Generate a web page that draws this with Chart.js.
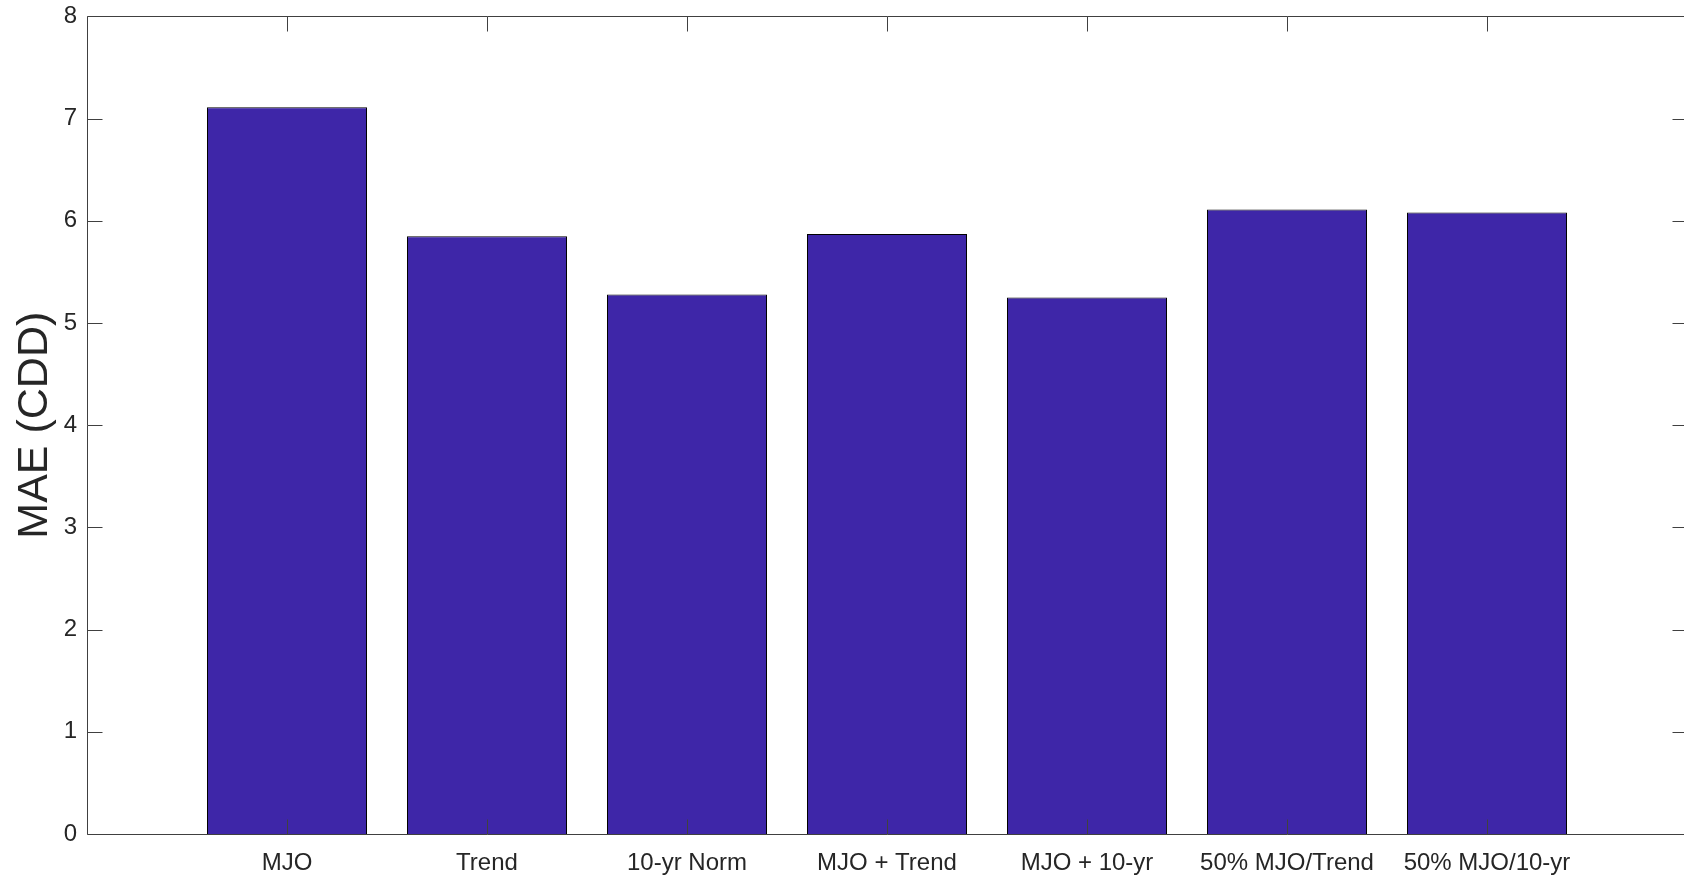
<!DOCTYPE html>
<html>
<head>
<meta charset="utf-8">
<script src="https://cdn.jsdelivr.net/npm/chart.js@4"></script>
<style>
  html, body { margin: 0; padding: 0; background: #fff; overflow: hidden; }
  #mae { display: block; }
</style>
</head>
<body>
<canvas id="mae" width="1700" height="881"></canvas>
<script>
// forecast methods and their mean absolute error (CDD)
const methods = ['MJO', 'Trend', '10-yr Norm', 'MJO + Trend', 'MJO + 10-yr', '50% MJO/Trend', '50% MJO/10-yr']
const maeValues = [7.11, 5.85, 5.28, 5.87, 5.25, 6.11, 6.08]
const yTicks = [0, 1, 2, 3, 4, 5, 6, 7, 8]

const textColor = '#262626'
const axisColor = '#404040'
const barColor = 'rgb(62,38,168)'
const tickLen = 15

// matlab style box with inward ticks, drawn over the bars
const matlabAxes = {
    id: 'matlabAxes',
    afterDatasetsDraw(chart) {
        const {ctx, chartArea: a, scales: {x, y}} = chart
        ctx.save()
        ctx.strokeStyle = axisColor
        ctx.lineWidth = 1
        ctx.beginPath()
        const l = Math.round(a.left) + 0.5, r = Math.round(a.right) + 0.5
        const t = Math.round(a.top) + 0.5, b = Math.round(a.bottom) + 0.5
        ctx.rect(l, t, r - l, b - t)
        methods.forEach((m, i) => {
            const px = Math.round(x.getPixelForValue(i + 1)) + 0.5
            ctx.moveTo(px, b); ctx.lineTo(px, b - tickLen)
            ctx.moveTo(px, t); ctx.lineTo(px, t + tickLen)
        })
        yTicks.forEach(v => {
            const py = Math.round(y.getPixelForValue(v)) + 0.5
            ctx.moveTo(l, py); ctx.lineTo(l + tickLen, py)
            ctx.moveTo(r, py); ctx.lineTo(r - tickLen, py)
        })
        ctx.stroke()
        ctx.restore()
    }
}

const ctx = document.querySelector('#mae')
const maeChart = new Chart(ctx, {
    type: 'bar',
    data: {
        datasets: [{
            data: methods.map((m, i) => ({x: i + 1, y: maeValues[i]})),
            backgroundColor: barColor,
            borderColor: '#000',
            borderWidth: 1,
            barPercentage: 0.8,
            categoryPercentage: 1
        }]
    },
    options: {
        responsive: false,
        animation: false,
        devicePixelRatio: 1,
        layout: {padding: {top: 9, right: 13, left: 0, bottom: 0}},
        plugins: {legend: {display: false}, tooltip: {enabled: false}},
        scales: {
            x: {
                type: 'linear',
                min: 0,
                max: 8,
                offset: false,
                grid: {display: false, offset: false},
                border: {display: false},
                afterBuildTicks: scale => {
                    scale.ticks = methods.map((m, i) => ({value: i + 1}))
                },
                afterFit: scale => { scale.height = 47 },
                ticks: {
                    autoSkip: false,
                    maxRotation: 0,
                    padding: 7,
                    color: textColor,
                    font: {family: 'Liberation Sans, Arial, sans-serif', size: 24}
                    ,
                    callback: v => methods[v - 1] || ''
                }
            },
            y: {
                min: 0,
                max: 8,
                grid: {display: false},
                border: {display: false},
                afterBuildTicks: scale => {
                    scale.ticks = yTicks.map(v => ({value: v}))
                },
                afterFit: scale => { scale.width = 87 },
                ticks: {
                    padding: 2,
                    color: textColor,
                    font: {family: 'Liberation Sans, Arial, sans-serif', size: 24}
                },
                title: {
                    display: true,
                    text: 'MAE (CDD)',
                    color: textColor,
                    padding: {top: 9, bottom: 0},
                    font: {family: 'Liberation Sans, Arial, sans-serif', size: 43}
                }
            }
        }
    },
    plugins: [matlabAxes]
})
</script>
</body>
</html>
